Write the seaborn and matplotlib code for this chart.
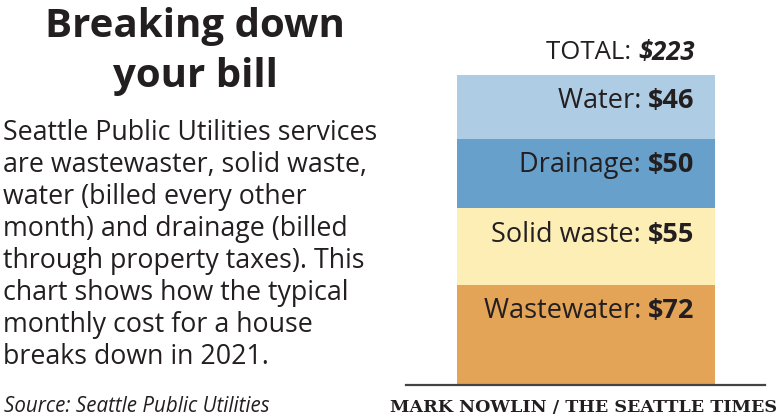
import matplotlib
matplotlib.use("Agg")
import matplotlib.pyplot as plt
import seaborn as sns
import numpy as np
import pandas as pd

# ---- data ----
categories = ["Wastewater", "Solid waste", "Drainage", "Water"]
values = [72, 55, 50, 46]
colors = ["#e3a457", "#fdeeb6", "#67a1cb", "#aecde4"]
total_label = "$223"
title_lines = ["Breaking down", "your bill"]
body_lines = [
    "Seattle Public Utilities services",
    "are wastewaster, solid waste,",
    "water (billed every other",
    "month) and drainage (billed",
    "through property taxes). This",
    "chart shows how the typical",
    "monthly cost for a house",
    "breaks down in 2021.",
]
source = "Source: Seattle Public Utilities"
credit = "MARK NOWLIN / THE SEATTLE TIMES"

sns.set_theme(style="white")
plt.rcParams["font.family"] = ["Open Sans", "DejaVu Sans"]

W, H = 780, 420
fig = plt.figure(figsize=(7.8, 4.2), dpi=100)

def fx(px):
    return px / W

def fy(py):
    return 1 - py / H

TXT = "#231f20"

# axes spanning baseline 406..765, bar top 75 / bottom 385
ax = fig.add_axes([fx(406), fy(385), (765 - 406) / W, (385 - 75) / H])

cum = np.cumsum(values)
df = pd.DataFrame({"cat": ["bill"] * len(values), "top": cum, "name": categories})
bar_w = 258 / 359
# draw cumulative bars from tallest to shortest so they layer as a stack
for i in range(len(values) - 1, -1, -1):
    sns.barplot(data=df.iloc[[i]], x="cat", y="top", color=colors[i],
                width=bar_w, ax=ax, saturation=1, linewidth=0)

ax.set_xlim(-0.5, 0.5)
ax.set_ylim(0, cum[-1])
ax.set_xlabel("")
ax.set_ylabel("")
ax.set_xticks([])
ax.set_yticks([])
for s in ["top", "right", "left"]:
    ax.spines[s].set_visible(False)
ax.spines["bottom"].set_color("#444444")
ax.spines["bottom"].set_linewidth(1.6)

LBL = 19.5
# segment labels
for i, (name, v) in enumerate(zip(categories, values)):
    t2 = ax.annotate(f"${v}", xy=(bar_w / 2, cum[i]), xytext=(-14.4, -19),
                     textcoords="offset points", ha="right", va="center",
                     fontsize=LBL, fontweight="bold", color=TXT)
    ax.annotate(f"{name}: ", xycoords=t2, xy=(0, 0.5), ha="right", va="center",
                fontsize=LBL, color=TXT)

# total
t = ax.annotate(total_label, xy=(bar_w / 2, cum[-1]), xytext=(-14.4, 16.5),
                textcoords="offset points", ha="right", va="center",
                fontsize=18.5, fontweight="bold", style="italic", color=TXT,
                annotation_clip=False)
ax.annotate("TOTAL: ", xycoords=t, xy=(0, 0.5), ha="right", va="center",
            fontsize=18.5, color=TXT, annotation_clip=False)

# title
fig.text(fx(195), fy(27), title_lines[0], ha="center", va="center",
         fontsize=29, fontweight="bold", color=TXT)
fig.text(fx(195), fy(76), title_lines[1], ha="center", va="center",
         fontsize=29, fontweight="bold", color=TXT)

# body text
for k, line in enumerate(body_lines):
    fig.text(fx(3), fy(133 + 32 * k), line, ha="left", va="center",
             fontsize=19.3, color=TXT)

fig.text(fx(4), fy(407), source, ha="left", va="center", fontsize=14.8,
         style="italic", color=TXT)
fig.text(fx(777), fy(408), credit, ha="right", va="center", fontsize=12.6,
         family=["DejaVu Serif"], fontweight="bold", color=TXT)

fig.savefig("out.png", dpi=100)
